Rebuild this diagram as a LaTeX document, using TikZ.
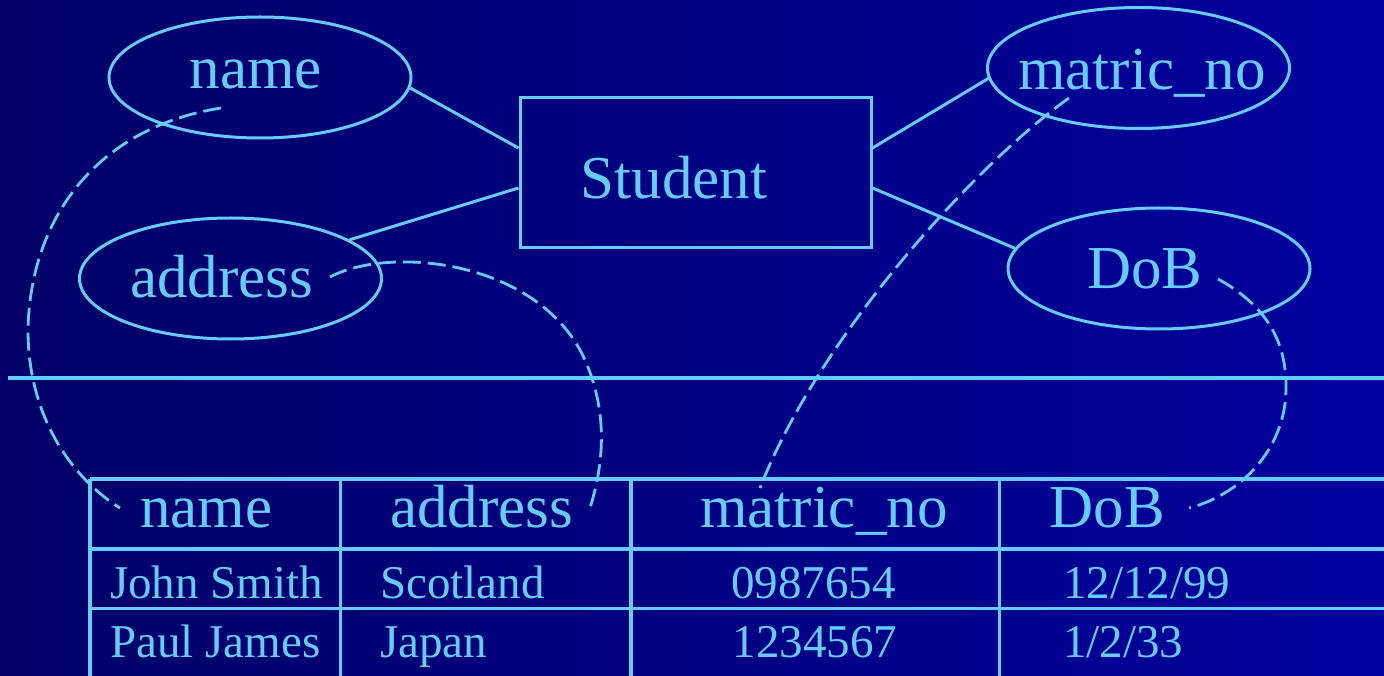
\documentclass[tikz,border=0pt]{standalone}
\usepackage{fontspec}
\setmainfont{Liberation Serif}
\usetikzlibrary{shapes.geometric,calc}
\definecolor{ink}{HTML}{66CCFF}
\definecolor{bgleft}{HTML}{000066}
\definecolor{bgright}{HTML}{00009E}

\begin{document}
\begin{tikzpicture}[x=1pt,y=-1pt,
  attr/.style={ellipse, draw=ink, line width=3pt, minimum width=302pt,
    minimum height=121pt, inner sep=0pt},
  entity/.style={rectangle, draw=ink, line width=3pt, minimum width=351pt,
    minimum height=150pt, inner sep=0pt},
  lbl/.style={text=ink, inner sep=0pt, anchor=base,
    font=\fontsize{61}{61}\selectfont},
  head/.style={text=ink, inner sep=0pt, anchor=base west,
    font=\fontsize{61}{61}\selectfont},
  cell/.style={text=ink, inner sep=0pt, anchor=base west,
    font=\fontsize{47}{47}\selectfont},
  link/.style={draw=ink, line width=3pt},
  rule/.style={draw=ink, line width=3.2pt},
  map/.style={draw=ink, line width=2.8pt, dash pattern=on 18pt off 7pt}]

% background
\fill[left color=bgleft, right color=bgright] (0,0) rectangle (1384,676);
\useasboundingbox (0,0) rectangle (1384,676);

% ER diagram: entity and its attributes
\node[entity] (student) at (695.5,173) {};
\node[lbl] (studentT) at (674,199) {Student};

\node[attr] (name) at (260,77.5) {};
\node[lbl] (nameT) at (256,88.3) {name};
\node[attr] (address) at (230.5,278.5) {};
\node[lbl] (addressT) at (221.5,297.7) {address};
\node[attr] (matric) at (1138.5,68) {};
\node[lbl] (matricT) at (1142,89.3) {matric\_no};
\node[attr] (dob) at (1159,268.5) {};
\node[lbl] (dobT) at (1145,288.3) {DoB};

\draw[link] (name.-4) -- ([yshift=25pt]student.west);
\draw[link] (address.18) -- ([yshift=-15pt]student.west);
\draw[link] (matric.184) -- ([yshift=25pt]student.east);
\draw[link] (dob.172) -- ([yshift=-15pt]student.east);

% separator
\draw[rule] (8,378) -- (1384,378);

% relation table grid
\foreach \yy in {479,549,608.5} \draw[rule] (90,\yy) -- (1384,\yy);
\foreach \xx in {90,340.5,631,999.5} \draw[rule] (\xx,479) -- (\xx,678);

% table header
\node[head] (hName) at (140,527.7) {name};
\node[head] (hAddr) at (390,527.7) {address};
\node[head] (hMatric) at (700,527.7) {matric\_no};
\node[head] (hDob) at (1049.5,527.7) {DoB};

% table rows
\node[cell] (r1a) at (110,598.5) {John Smith};
\node[cell] (r1b) at (380,598.5) {Scotland};
\node[cell] (r1c) at (731,598.5) {0987654};
\node[cell] (r1d) at (1063,598.5) {12/12/99};
\node[cell] (r2a) at (110,657) {Paul James};
\node[cell] (r2b) at (380,657) {Japan};
\node[cell] (r2c) at (732.5,657) {1234567};
\node[cell] (r2d) at (1063,657) {1/2/33};

% mapping from attributes to columns
\coordinate (nameSrc) at (221,108);
\coordinate (nameDst) at (120,508);
\coordinate (addrSrc) at (330,277);
\coordinate (addrDst) at (590,508);
\coordinate (matSrc) at (1069,98);
\coordinate (matDst) at (760,488);
\coordinate (dobSrc) at (1218,279);
\coordinate (dobDst) at (1189,508);

\draw[map] (nameSrc) .. controls (95,128) and (30,220) .. (28,330)
  .. controls (28,420) and (75,480) .. (nameDst);
\draw[map] (addrSrc) .. controls (390,245) and (540,260) .. (585,360)
  .. controls (607,410) and (605,460) .. (addrDst);
\draw[map] (matSrc) .. controls (975,165) and (820,335) .. (matDst);
\draw[map] (dobSrc) .. controls (1265,305) and (1287,340) .. (1286,390)
  .. controls (1285,450) and (1240,495) .. (dobDst);
\end{tikzpicture}
\end{document}
